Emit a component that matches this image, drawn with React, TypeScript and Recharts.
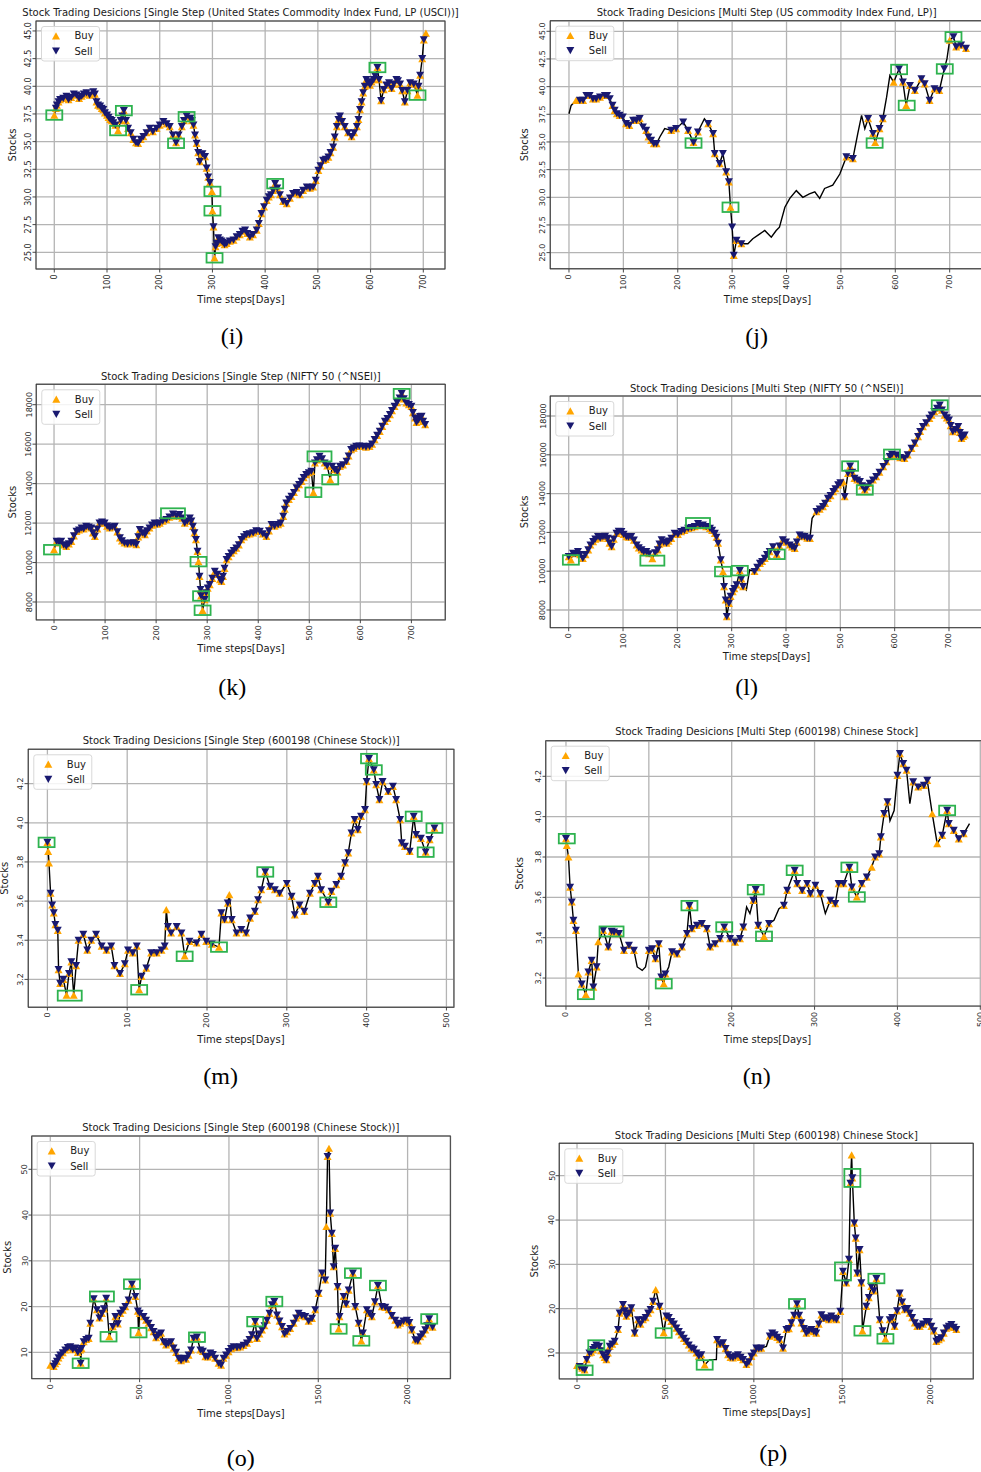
import React from 'react';
import { ComposedChart, Line, Scatter, XAxis, YAxis, CartesianGrid } from 'recharts';

const ORANGE = '#ffa500';
const NAVY = '#191970';
const GREEN = '#2eb34f';
const FONT = 'DejaVu Sans';

// ---------- (i) Single Step USCI ----------
const iDays = [0,5,11,23,32,42,52,61,74,80,87,93,100,106,112,121,126,132,140,150,159,169,181,194,207,219,231,242,251,258,264,270,276,286,292,299,300,302,304,308,314,320,327,340,352,362,371,384,393,403,411,419,428,441,453,466,479,491,501,510,520,529,536,542,551,564,574,580,586,592,599,606,613,620,630,640,649,656,665,675,689,694,698,701,705];
const iPrice = [37.4,38.3,38.8,39.1,39.0,39.2,39.1,39.4,39.5,38.6,38.2,37.9,37.4,37.0,36.7,36.0,36.9,37.8,36.2,35.2,34.85,35.45,36.2,36.2,36.8,36.35,34.9,36.35,37.3,37.1,36.5,34.85,33.2,33.65,31.8,30.5,28.75,27.3,24.5,25.8,26.1,25.9,25.8,26.1,26.6,27.0,26.4,27.0,28.5,29.7,30.2,31.2,30.2,29.4,30.3,30.2,30.9,30.9,32.4,33.3,33.6,34.5,36.35,37.3,36.35,35.45,36.35,37.9,39.4,40.6,40.1,40.6,41.7,38.7,40.1,39.8,40.6,40.2,38.6,40.3,39.2,41.0,42.5,44.2,44.8];
const iMidDays = [3,8,17,27,37,47,56,67,77,83,90,96,103,109,116,129,136,145,155,164,175,187,200,213,225,236,246,261,267,273,281,289,295,306,311,317,323,333,346,357,366,377,388,398,407,415,423,434,447,460,472,485,496,505,515,524,532,539,546,557,569,577,583,589,595,602,609,616,625,635,644,652,660,670,682,691];
const iMidPrice = [38.0,38.6,38.9,38.8,39.3,38.9,39.3,39.2,39.3,38.3,38.0,37.6,37.2,36.9,36.5,37.3,36.9,35.8,34.9,35.2,35.8,35.9,36.5,36.6,35.6,35.6,36.9,36.9,35.6,34.0,33.9,32.6,31.3,25.5,26.3,26.0,25.7,26.0,26.4,26.9,26.7,26.6,27.6,29.1,30.0,30.6,30.8,29.6,29.9,30.4,30.6,30.8,31.5,32.8,33.4,34.0,35.4,37.0,36.8,35.8,35.8,37.0,38.6,40.0,40.3,40.4,40.9,40.6,39.7,40.3,40.2,40.5,39.6,39.6,40.2,40.0];
const iBuyOnly = [0,121,299,300,304,689,705];
const iNoMarker: number[] = [];
const iBoxes = [[0,37.4],[121,36.0],[132,37.8],[231,34.85],[251,37.25],[300,30.5],[300,28.75],[304,24.5],[419,31.2],[613,41.7],[689,39.2]];

// ---------- (j) Multi Step USCI ----------
const jDays = [0,4,13,20,26,32,38,44,50,57,66,70,75,80,84,88,93,99,105,111,118,124,130,136,142,146,151,156,161,167,176,188,197,210,219,229,237,249,256,265,268,277,283,289,294,297,300,303,308,317,329,338,351,360,372,381,387,397,406,418,430,442,452,461,470,485,498,510,522,531,538,544,550,559,563,571,577,584,590,597,607,614,620,627,636,648,654,663,672,681,690,695,700,707,712,721,730];
const jPrice = [37.55,38.3,38.75,38.75,38.75,39.2,39.2,38.9,38.9,39.05,39.2,39.2,38.9,38.3,37.85,37.55,37.4,37.25,36.65,36.5,36.95,36.95,37.1,36.35,36.05,35.45,35.15,34.85,34.85,35.45,36.2,36.05,36.2,36.8,36.05,34.95,35.9,37.1,36.65,35.75,33.95,33.05,33.95,32.3,31.4,29.1,27.3,24.75,26.1,25.8,25.8,26.25,26.7,27.0,26.4,27.0,27.3,29.1,29.9,30.6,30.0,30.3,30.5,29.9,30.8,31.1,32.1,33.65,33.5,35.75,37.4,36.2,37.1,35.75,34.95,36.2,37.1,39.05,41.0,40.4,41.6,40.4,38.3,40.1,39.65,40.7,40.25,38.75,39.8,39.65,41.6,42.5,44.2,44.5,43.6,43.75,43.45];
const jSell = [20,26,32,38,44,50,57,66,70,75,80,84,88,93,99,105,111,118,124,130,136,142,146,151,156,161,188,197,210,219,229,237,256,265,268,277,283,289,294,300,303,308,317,510,522,550,559,571,577,607,614,627,636,648,654,663,672,681,690,707,712,721,730];
const jBuy = [13,20,26,38,44,50,57,66,80,84,88,93,105,111,118,124,130,142,146,151,156,161,188,197,219,229,237,256,265,268,277,289,294,297,303,308,317,510,522,550,559,563,571,577,597,614,620,627,636,648,654,663,672,681,700,712,721,730];
const jBoxes = [[229,34.9],[297,29.1],[562,34.9],[607,41.55],[621,38.3],[691,41.6],[707,44.5]];

// ---------- (k) Single Step NIFTY ----------
const kDays = [0,5,14,24,34,44,54,63,73,80,89,99,109,119,129,138,151,161,168,178,187,197,207,220,233,246,256,266,272,278,281,283,285,287,288,291,295,298,305,315,325,331,338,347,357,367,377,390,403,416,426,439,449,455,465,475,485,494,504,508,511,520,530,541,545,550,560,573,582,592,605,618,628,638,648,658,667,677,681,690,700,707,714,720,727];
const kPrice = [10650,11075,11075,10820,11075,11580,11750,11835,11750,11330,12000,12000,11750,11835,11245,10990,10990,10905,11665,11410,11750,12000,12000,12170,12450,12425,12000,12255,11835,11160,10570,10045,9300,8625,8305,7580,8120,8460,8880,9555,9130,9300,10145,10480,10735,11160,11410,11500,11580,11330,11920,11920,12340,13015,13355,13780,14115,14455,14620,13560,15045,15380,15045,14200,14875,14705,14875,15130,15720,15890,15890,15890,16225,16650,17155,17495,17915,18340,18560,18085,17915,17325,17240,17410,16985];
const kMidDays = [10,19,29,39,49,58,68,76,85,94,104,114,124,133,144,156,165,173,182,192,202,213,226,240,251,261,269,275,301,310,320,328,334,342,352,362,372,383,396,409,421,432,444,452,460,470,480,489,499,515,525,535,555,566,577,587,598,611,623,633,643,653,662,672,685,695,703,710,717,723];
const kMidPrice = [11000,10900,10950,11350,11650,11700,11800,11500,11700,12050,11850,11800,11550,11100,10950,11000,11300,11500,11600,11900,11950,12100,12300,12350,12250,12100,12100,11500,8700,9200,9400,9050,9700,10300,10600,10900,11300,11450,11600,11450,11600,11850,12000,12700,13200,13550,13950,14300,14550,15200,15250,14900,14600,14950,15400,15800,15900,15850,16000,16450,16900,17300,17700,18100,18300,18000,17600,17100,17400,17150];
const kBuyOnly = [0,283,291,508,541];
const kNoMarker: number[] = [];
const kBoxes = [[-4,10650],[283,10045],[288,8305],[291,7580],[508,13560],[541,14200],[681,18560]];
const kWide = [[233,12495],[520,15380]];

// ---------- (l) Multi Step NIFTY ----------
const lDays = [0,4,8,17,26,36,45,54,63,72,79,88,97,106,115,125,134,143,154,164,171,180,189,195,207,220,232,238,247,260,269,275,280,284,286,289,291,295,302,309,315,321,327,333,342,352,361,370,383,394,407,416,425,434,444,448,456,468,477,487,496,505,508,514,518,526,536,545,554,566,579,591,595,603,618,631,643,652,664,673,683,692,700,707,717,723,729];
const lPrice = [10750,10580,10920,11010,10665,11095,11520,11780,11780,11695,11265,11950,12040,11780,11780,11350,11095,11010,10650,11095,11610,11440,11695,11950,12040,12210,12295,12450,12380,12210,11950,11440,10580,9980,9200,8515,7660,8345,8945,9300,10030,9205,9030,10065,9985,10405,10665,11010,10870,11610,11350,11180,11865,11780,11695,12725,13070,13330,13755,14100,14445,14615,13840,15045,15420,14785,14615,14185,14530,14875,15390,15905,16025,15990,15820,16335,16935,17450,17880,18225,18565,18050,17795,17190,17450,16850,17020];
const lMidDays = [12,21,31,40,49,58,67,75,83,92,101,110,120,129,138,148,159,167,175,184,201,213,226,242,253,264,272,298,305,318,347,356,365,376,388,400,411,420,429,439,462,472,482,491,500,522,531,540,549,560,572,585,610,624,637,647,658,668,678,687,696,703,712,720,726];
const lMidPrice = [10900,10850,10850,11350,11650,11700,11800,11450,11650,12050,11900,11750,11600,11200,11000,10900,10950,11400,11500,11550,11900,12100,12250,12350,12300,12100,11750,8700,9100,9600,10200,10500,10850,11250,11300,11500,11250,11500,11800,11700,13200,13500,13900,14250,14550,15100,14700,14400,14350,14700,15100,15650,15850,16000,16600,17200,17650,18050,18400,18300,17900,17500,17300,17150,16950];
const lBuyOnly = [4,154,284,505];
const lNoMarker = [327,333,448];
const lBoxes = [[4,10580],[284,9980],[315,10030],[383,10870],[518,15420],[545,14185],[595,16025],[683,18565]];
const lWide = [[154,10545],[238,12485]];

// ---------- (m) Single Step 600198 ----------
const mDays = [0,1,2,4,6,8,10,13,14,16,20,24,27,30,33,36,39,45,50,55,61,68,74,80,84,91,97,101,107,112,115,118,124,130,137,143,147,149,151,155,162,168,172,178,187,193,199,206,215,218,222,226,228,231,237,243,249,254,260,264,268,273,279,285,291,300,306,310,316,322,329,335,339,343,352,356,362,368,373,377,381,385,389,393,398,400,403,409,412,416,420,427,433,437,442,444,448,454,459,462,468,474,479,485];
const mPrice = [3.9,3.854,3.795,3.64,3.58,3.54,3.48,3.45,3.25,3.18,3.2,3.12,3.23,3.29,3.12,3.27,3.40,3.43,3.35,3.40,3.43,3.37,3.35,3.37,3.27,3.23,3.28,3.35,3.335,3.37,3.147,3.215,3.258,3.335,3.335,3.35,3.37,3.556,3.47,3.437,3.47,3.437,3.32,3.394,3.386,3.43,3.394,3.38,3.365,3.54,3.505,3.59,3.633,3.505,3.437,3.454,3.437,3.513,3.548,3.607,3.658,3.749,3.675,3.658,3.64,3.69,3.624,3.53,3.58,3.548,3.64,3.69,3.726,3.658,3.594,3.65,3.684,3.726,3.795,3.846,3.948,4.016,3.965,4.033,4.067,4.21,4.328,4.27,4.195,4.118,4.21,4.16,4.186,4.118,4.016,3.897,3.88,3.854,4.033,3.94,3.92,3.85,3.914,3.973];
const mBuyOnly = [1,2,24,33,115,149,172,215,228];
const mNoMarker: number[] = [];
const mBoxes = [[-1,3.9],[115,3.147],[172,3.318],[215,3.365],[273,3.749],[352,3.594],[403,4.328],[409,4.27],[459,4.033],[474,3.85],[485,3.973]];
const mWide = [[28,3.117]];

// ---------- (n) Multi Step 600198 ----------
const nDays = [0,1,3,5,7,9,12,15,19,24,27,31,33,37,39,45,51,55,58,64,70,76,82,86,92,96,100,104,108,112,115,118,120,124,128,134,140,146,149,152,158,164,170,174,180,186,191,198,204,210,214,218,222,226,229,232,239,245,251,257,263,267,276,279,285,291,295,301,307,313,319,325,329,335,342,345,351,357,363,369,373,378,380,384,388,391,396,400,403,407,411,415,419,425,432,436,442,448,454,460,462,468,474,480,487];
const nPrice = [3.891,3.858,3.80,3.65,3.577,3.486,3.436,3.22,3.17,3.119,3.23,3.288,3.155,3.255,3.38,3.436,3.354,3.431,3.428,3.42,3.337,3.362,3.337,3.255,3.238,3.255,3.337,3.345,3.296,3.37,3.205,3.172,3.22,3.255,3.33,3.32,3.354,3.42,3.559,3.445,3.461,3.47,3.445,3.354,3.37,3.395,3.453,3.395,3.378,3.395,3.453,3.552,3.52,3.585,3.638,3.461,3.407,3.47,3.486,3.544,3.56,3.635,3.734,3.668,3.635,3.668,3.618,3.66,3.618,3.52,3.585,3.569,3.668,3.668,3.749,3.651,3.602,3.668,3.70,3.75,3.80,3.816,3.90,4.015,4.073,3.98,4.03,4.205,4.312,4.263,4.23,4.064,4.172,4.147,4.155,4.18,4.015,3.866,3.907,4.031,3.965,3.932,3.89,3.916,3.965];
const nBuyOnly = [1,3,15,24,39,118,239,351,369,442,448];
const nNoMarker = [86,92,96,124,218,222,251,257,313,391,396,415,487];
const nBoxes = [[1,3.891],[24,3.119],[118,3.172],[149,3.559],[191,3.453],[229,3.638],[239,3.407],[276,3.734],[342,3.749],[351,3.602],[460,4.031]];
const nWide = [[55,3.431]];

// ---------- (o) Single Step 600198 long ----------
const oDays = [0,19,37,56,84,112,140,168,170,175,187,215,224,243,261,289,313,330,350,364,392,420,438,457,476,490,494,500,522,550,578,606,634,662,690,718,746,774,802,821,840,868,896,923,942,970,998,1026,1063,1101,1129,1147,1157,1185,1213,1241,1254,1269,1297,1325,1362,1390,1427,1465,1483,1502,1521,1539,1545,1552,1560,1567,1576,1586,1595,1608,1614,1619,1642,1670,1694,1707,1726,1741,1750,1772,1800,1834,1856,1894,1931,1959,1996,2024,2043,2071,2099,2121,2140];
const oPrice = [7.2,6.9,8.0,9.4,10.5,11.2,10.9,10.5,7.6,10.8,12.3,13.05,16.35,21.7,19.3,18.5,21.8,13.4,15.6,17.8,18.5,20.0,21.4,24.9,22.2,19.0,14.3,18.5,17.8,16.35,14.5,13.8,12.3,12.0,10.9,8.7,8.7,9.4,13.05,13.3,10.5,9.05,9.8,8.7,7.6,8.7,10.15,11.2,11.2,12.0,13.8,16.7,13.05,14.9,17.0,20.35,21.1,18.15,15.6,14.5,16.35,18.5,17.8,17.4,19.3,22.9,27.3,25.8,37.5,52.8,54.6,40.4,36.0,28.7,32.7,24.35,15.1,17.8,22.2,23.6,27.3,20.0,16.35,12.5,14.2,19.3,17.8,24.6,20.0,19.3,17.0,16.35,17.0,14.9,12.7,13.4,14.9,17.3,15.5];
const oMidDays = [28,46,70,98,126,154,201,275,301,378,406,536,564,592,620,648,676,704,732,760,788,854,882,910,956,984,1012,1045,1082,1115,1171,1199,1227,1283,1311,1343,1376,1408,1446,1656,1786,1817,1875,1912,1945,1977,2010,2057,2085,2110];
const oMidPrice = [7.5,8.8,9.9,11.0,10.6,10.0,12.8,17.5,19.5,16.2,19.2,17.0,15.4,13.2,14.2,11.6,12.3,10.0,8.2,8.5,10.5,10.2,9.0,9.5,7.2,9.4,10.8,11.0,11.5,12.8,14.0,15.8,18.5,16.8,14.0,15.2,17.5,18.0,16.8,20.5,18.5,21.0,19.8,18.0,16.0,16.8,16.5,12.5,14.0,15.8];
const oBuyOnly = [0,330,494,1545,1560,1614,1741];
const oNoMarker: number[] = [];
const oBoxes = [[170,7.6],[326,13.4],[457,24.9],[494,14.3],[821,13.3],[1147,16.7],[1254,21.1],[1614,15.1],[1694,27.3],[1741,12.5],[1834,24.6],[2121,17.3]];
const oWide = [[289,22.2]];

// ---------- (p) Multi Step 600198 long ----------
const pDays = [0,15,30,43,55,70,90,109,125,147,166,185,213,232,241,260,279,307,326,345,373,402,430,445,467,490,505,533,562,590,618,647,675,703,722,750,788,792,826,854,882,910,939,958,986,1014,1042,1071,1090,1118,1146,1165,1184,1212,1244,1269,1297,1325,1353,1382,1410,1438,1467,1489,1504,1523,1538,1546,1553,1557,1568,1576,1585,1598,1608,1614,1636,1664,1693,1712,1744,1768,1796,1825,1853,1881,1910,1938,1976,2004,2032,2060,2089,2117,2145];
const pPrice = [7.2,6.9,6.6,6.2,8.5,10.0,10.75,11.8,11.5,9.6,8.5,11.5,12.6,15.3,19.0,20.9,18.3,20.2,14.5,17.5,17.5,19.0,21.65,24.3,20.5,14.6,18.3,17.1,15.6,14.1,12.6,11.1,10.0,9.6,7.3,8.5,8.5,13.0,12.3,9.6,8.9,9.6,8.5,7.4,9.25,11.1,11.1,11.5,13.8,14.1,13.0,11.1,15.3,16.8,21.1,16.8,14.5,15.3,14.5,18.6,17.9,18.3,17.5,19.4,28.4,25.8,31.1,48.3,54.7,49.5,39.3,35.9,28.0,33.3,25.8,15.0,20.5,25.0,26.8,17.5,13.2,17.5,16.0,23.5,19.8,19.0,16.8,16.0,17.1,16.0,12.6,13.4,15.6,16.4,15.3];
const pMidDays = [80,100,136,156,175,199,270,293,359,388,416,519,548,576,604,632,661,689,809,840,868,896,925,972,1000,1028,1104,1132,1198,1228,1256,1283,1311,1339,1367,1396,1424,1452,1650,1678,1728,1782,1810,1839,1867,1895,1924,1957,1990,2018,2046,2074,2103,2131];
const pMidPrice = [10.2,11.2,10.5,9.0,10.0,12.0,19.5,19.0,16.5,18.0,19.8,18.0,16.5,14.8,13.3,11.8,10.8,9.3,12.0,11.0,9.0,9.3,9.0,8.0,10.0,11.0,14.5,13.5,15.5,18.5,18.5,15.5,15.0,14.8,16.5,17.8,17.5,17.8,22.5,24.0,15.0,18.0,19.5,21.5,20.0,18.0,16.0,16.5,17.0,15.0,13.0,14.5,16.0,15.8];
const pBuyOnly = [0,445,490,722,1553,1614,1744];
const pNoMarker = [750,788,1071];
const pBoxes = [[43,6.1],[109,11.8],[490,14.5],[722,7.3],[1244,21.1],[1614,15.0],[1693,26.8],[1744,13.2]];
const pBig = [[1504,28.4],[1557,49.5]];

// ---------- tick labels ----------
const ticks700 = [0,100,200,300,400,500,600,700];
const ticks500 = [0,100,200,300,400,500];
const ticks2000 = [0,500,1000,1500,2000];
const yUSCI = [25,27.5,30,32.5,35,37.5,40,42.5,45];
const yNifty = [8000,10000,12000,14000,16000,18000];
const yCn = [3.2,3.4,3.6,3.8,4.0,4.2];
const yCnLong = [10,20,30,40,50];

type Pt = { x: number; y: number };
const merge = (d1: number[], p1: number[], d2: number[] = [], p2: number[] = []): Pt[] => {
  const a = d1.map((d, i) => ({ x: d, y: p1[i] })).concat(d2.map((d, i) => ({ x: d, y: p2[i] })));
  return a.map((p, i) => ({ p, i })).sort((u, v) => u.p.x - v.p.x || u.i - v.i).map((o) => o.p);
};
const boxPts = (b: number[][]): Pt[] => b.map(([x, y]) => ({ x, y }));
const buysOf = (pts: Pt[], no: number[]) => pts.filter((p) => no.indexOf(p.x) < 0);
const sellsOf = (pts: Pt[], no: number[], only: number[]) =>
  pts.filter((p) => no.indexOf(p.x) < 0 && only.indexOf(p.x) < 0);
const pickDays = (pts: Pt[], sel: number[]) => pts.filter((p) => sel.indexOf(p.x) >= 0);

const f1 = (v: number) => v.toFixed(1);
const f0 = (v: number) => String(v);

const iPts = merge(iDays, iPrice, iMidDays, iMidPrice);
const jPts = merge(jDays, jPrice);
const kPts = merge(kDays, kPrice, kMidDays, kMidPrice);
const lPts = merge(lDays, lPrice, lMidDays, lMidPrice);
const mPts = merge(mDays, mPrice);
const nPts = merge(nDays, nPrice);
const oPts = merge(oDays, oPrice, oMidDays, oMidPrice);
const pPts = merge(pDays, pPrice, pMidDays, pMidPrice);

type Cfg = {
  title: string; caption: string;
  pts: Pt[]; buy: Pt[]; sell: Pt[];
  boxes: number[][]; wide: number[][]; big: number[][];
  L: number; T: number; R: number; B: number;
  xDom: [number, number]; yDom: [number, number];
  xTicks: number[]; yTicks: number[]; yFmt: (v: number) => string;
  titleX: number; titleY: number; xlabX: number; xlabY: number; ylabX: number; capX: number; capY: number;
};

const panels: Cfg[] = [
  { title: 'Stock Trading Desicions [Single Step (United States Commodity Index Fund, LP (USCI))]', caption: '(i)',
    pts: iPts, buy: buysOf(iPts, iNoMarker), sell: sellsOf(iPts, iNoMarker, iBuyOnly),
    boxes: iBoxes, wide: [], big: [],
    L: 36, T: 21, R: 445, B: 269, xDom: [-34.7, 741.2], yDom: [23.49, 45.9], xTicks: ticks700, yTicks: yUSCI, yFmt: f1,
    titleX: 240.5, titleY: 12, xlabX: 241, xlabY: 299, ylabX: 12.7, capX: 232, capY: 336 },
  { title: 'Stock Trading Desicions [Multi Step (US commodity Index Fund, LP)]', caption: '(j)',
    pts: jPts, buy: pickDays(jPts, jBuy), sell: pickDays(jPts, jSell),
    boxes: jBoxes, wide: [], big: [],
    L: 550.3, T: 20.7, R: 983, B: 268.7, xDom: [-34.9, 760.7], yDom: [23.52, 45.93], xTicks: ticks700, yTicks: yUSCI, yFmt: f1,
    titleX: 766.7, titleY: 12, xlabX: 767.5, xlabY: 299, ylabX: 525, capX: 756.7, capY: 336 },
  { title: 'Stock Trading Desicions [Single Step (NIFTY 50 (^NSEI)]', caption: '(k)',
    pts: kPts, buy: buysOf(kPts, kNoMarker), sell: sellsOf(kPts, kNoMarker, kBuyOnly),
    boxes: kBoxes, wide: kWide, big: [],
    L: 36.3, T: 384.3, R: 445.3, B: 620, xDom: [-35.3, 765.8], yDom: [7103, 19049], xTicks: ticks700, yTicks: yNifty, yFmt: f0,
    titleX: 240.8, titleY: 376.7, xlabX: 241, xlabY: 648.7, ylabX: 12.7, capX: 232.3, capY: 687 },
  { title: 'Stock Trading Desicions [Multi Step (NIFTY 50 (^NSEI)]', caption: '(l)',
    pts: lPts, buy: buysOf(lPts, lNoMarker), sell: sellsOf(lPts, lNoMarker, lBuyOnly),
    boxes: lBoxes, wide: lWide, big: [],
    L: 550.3, T: 396, R: 983, B: 627.7, xDom: [-34.4, 762], yDom: [7088, 19031], xTicks: ticks700, yTicks: yNifty, yFmt: f0,
    titleX: 766.7, titleY: 388.3, xlabX: 766.5, xlabY: 656, ylabX: 525, capX: 746.7, capY: 687 },
  { title: 'Stock Trading Desicions [Single Step (600198 (Chinese Stock))]', caption: '(m)',
    pts: mPts, buy: buysOf(mPts, mNoMarker), sell: sellsOf(mPts, mNoMarker, mBuyOnly),
    boxes: mBoxes, wide: mWide, big: [],
    L: 28.3, T: 749.3, R: 454, B: 1007.3, xDom: [-24.3, 509.1], yDom: [3.059, 4.377], xTicks: ticks500, yTicks: yCn, yFmt: f1,
    titleX: 241.2, titleY: 740.7, xlabX: 241, xlabY: 1039, ylabX: 4.5, capX: 220.7, capY: 1076 },
  { title: 'Stock Trading Desicions [Multi Step (600198) Chinese Stock]', caption: '(n)',
    pts: nPts, buy: buysOf(nPts, nNoMarker), sell: sellsOf(nPts, nNoMarker, nBuyOnly),
    boxes: nBoxes, wide: nWide, big: [],
    L: 545.7, T: 740.7, R: 987.7, B: 1006, xDom: [-24.1, 509.3], yDom: [3.06, 4.375], xTicks: ticks500, yTicks: yCn, yFmt: f1,
    titleX: 766.7, titleY: 731.7, xlabX: 767.5, xlabY: 1039, ylabX: 520, capX: 756.7, capY: 1076 },
  { title: 'Stock Trading Desicions [Single Step (600198 (Chinese Stock))]', caption: '(o)',
    pts: oPts, buy: buysOf(oPts, oNoMarker), sell: sellsOf(oPts, oNoMarker, oBuyOnly),
    boxes: oBoxes, wide: oWide, big: [],
    L: 31.7, T: 1136, R: 450.3, B: 1378.7, xDom: [-102.4, 2240.7], yDom: [4.23, 57.28], xTicks: ticks2000, yTicks: yCnLong, yFmt: f0,
    titleX: 240.8, titleY: 1127.3, xlabX: 241, xlabY: 1413.7, ylabX: 7.3, capX: 240.7, capY: 1458 },
  { title: 'Stock Trading Desicions [Multi Step (600198) Chinese Stock]', caption: '(p)',
    pts: pPts, buy: buysOf(pPts, pNoMarker), sell: sellsOf(pPts, pNoMarker, pBuyOnly),
    boxes: pBoxes, wide: [], big: pBig,
    L: 559.3, T: 1143.3, R: 973.3, B: 1379, xDom: [-101.8, 2239.2], yDom: [4.2, 57.38], xTicks: ticks2000, yTicks: yCnLong, yFmt: f0,
    titleX: 766.3, titleY: 1135.3, xlabX: 766.7, xlabY: 1412.7, ylabX: 535, capX: 773.3, capY: 1453 },
];

const TW = 4, TH = 3.6;
const triUp = (cx: number, cy: number) => `${cx},${cy - TH} ${cx - TW},${cy + TH} ${cx + TW},${cy + TH}`;
const triDown = (cx: number, cy: number) => `${cx},${cy + TH} ${cx - TW},${cy - TH} ${cx + TW},${cy - TH}`;

const BuyShape = (p: any) => (p.cx == null ? <g /> : <polygon points={triUp(p.cx, p.cy)} fill={ORANGE} />);
const SellShape = (p: any) => (p.cx == null ? <g /> : <polygon points={triDown(p.cx, p.cy)} fill={NAVY} />);
const mkBox = (w: number, h: number) => (p: any) =>
  p.cx == null ? <g /> : (
    <rect x={p.cx - w / 2} y={p.cy - h / 2} width={w} height={h} fill="none" stroke={GREEN} strokeWidth={1.8} />
  );
const BoxShape = mkBox(16, 9.5);
const WideShape = mkBox(24, 10);
const BigShape = mkBox(16, 18);

function Panel({ c }: { c: Cfg }) {
  const W = c.R - c.L + 25;
  const H = c.B - c.T + 33;
  const xt = (p: any) => (
    <text x={p.x} y={p.y} transform={`rotate(-90 ${p.x} ${p.y})`} textAnchor="end" dominantBaseline="central"
      fontSize={8} fill="#262626" fontFamily={FONT}>{p.payload.value}</text>
  );
  const yt = (p: any) => (
    <text x={p.x} y={p.y} transform={`rotate(-90 ${p.x} ${p.y})`} textAnchor="middle"
      fontSize={8} fill="#262626" fontFamily={FONT}>{c.yFmt(p.payload.value)}</text>
  );
  return (
    <div style={{ position: 'absolute', left: c.L - 20, top: c.T - 5 }}>
      <ComposedChart width={W} height={H} margin={{ top: 5, right: 5, left: 0, bottom: 0 }}>
        <CartesianGrid stroke="#b4b4b4" strokeWidth={1.3} />
        <XAxis type="number" dataKey="x" domain={c.xDom} ticks={c.xTicks} allowDataOverflow interval={0}
          height={28} tickSize={3.5} tickMargin={2} axisLine={false} tickLine={{ stroke: '#333', strokeWidth: 0.9 }} tick={xt} />
        <YAxis type="number" dataKey="y" domain={c.yDom} ticks={c.yTicks} allowDataOverflow interval={0}
          width={20} tickSize={3.5} tickMargin={1} axisLine={false} tickLine={{ stroke: '#333', strokeWidth: 0.9 }} tick={yt} />
        <Line data={c.pts} dataKey="y" stroke="#000" strokeWidth={1.4} dot={false} isAnimationActive={false} />
        <Scatter data={c.buy} shape={BuyShape} isAnimationActive={false} />
        <Scatter data={c.sell} shape={SellShape} isAnimationActive={false} />
        <Scatter data={boxPts(c.boxes)} shape={BoxShape} isAnimationActive={false} />
        <Scatter data={boxPts(c.wide)} shape={WideShape} isAnimationActive={false} />
        <Scatter data={boxPts(c.big)} shape={BigShape} isAnimationActive={false} />
      </ComposedChart>
    </div>
  );
}

function Overlay() {
  return (
    <svg width={981} height={1472} style={{ position: 'absolute', left: 0, top: 0, pointerEvents: 'none' }}>
      {panels.map((c, i) => (
        <g key={i}>
          <rect x={c.L} y={c.T} width={c.R - c.L} height={c.B - c.T} fill="none" stroke="#3a3a3a" strokeWidth={1} />
          <text x={c.titleX} y={c.titleY} textAnchor="middle" dominantBaseline="central" fontSize={10} fill="#1a1a1a" fontFamily={FONT}>{c.title}</text>
          <text x={c.xlabX} y={c.xlabY} textAnchor="middle" dominantBaseline="central" fontSize={10} fill="#1a1a1a" fontFamily={FONT}>Time steps[Days]</text>
          <text x={c.ylabX} y={(c.T + c.B) / 2} transform={`rotate(-90 ${c.ylabX} ${(c.T + c.B) / 2})`} textAnchor="middle" dominantBaseline="central" fontSize={10} fill="#1a1a1a" fontFamily={FONT}>Stocks</text>
          <text x={c.capX} y={c.capY} textAnchor="middle" dominantBaseline="central" fontSize={24} fill="#000" fontFamily="Liberation Serif">{c.caption}</text>
          <g transform={`translate(${c.L + 5.5},${c.T + 5.5})`}>
            <rect width={58} height={34.5} rx={2.5} fill="#fff" fillOpacity={0.85} stroke="#d4d4d4" strokeWidth={0.9} />
            <polygon points={triUp(14.5, 9.3)} fill={ORANGE} />
            <text x={33} y={9.3} dominantBaseline="central" fontSize={10} fill="#1a1a1a" fontFamily={FONT}>Buy</text>
            <polygon points={triDown(14.5, 24.5)} fill={NAVY} />
            <text x={33} y={24.5} dominantBaseline="central" fontSize={10} fill="#1a1a1a" fontFamily={FONT}>Sell</text>
          </g>
        </g>
      ))}
    </svg>
  );
}

export default function App() {
  return (
    <div style={{ position: 'absolute', left: 0, top: 0, width: 981, height: 1472, overflow: 'hidden', background: '#fff' }}>
      {panels.map((c, i) => <Panel key={i} c={c} />)}
      <Overlay />
    </div>
  );
}
